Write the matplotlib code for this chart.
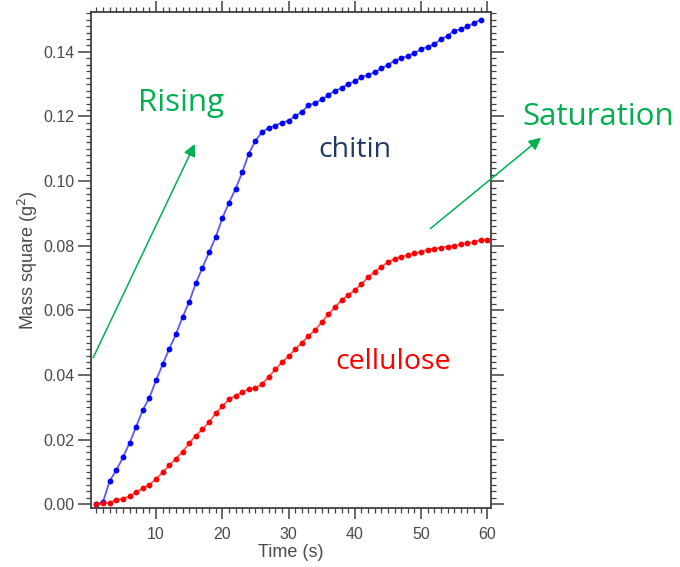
import matplotlib.pyplot as plt
from matplotlib.ticker import MultipleLocator

# time axis (s)
t_chitin = list(range(1, 60))
t_cellulose = list(range(1, 61))

chitin = [0.0000, 0.0007, 0.0072, 0.0105, 0.0145, 0.0189, 0.0240, 0.0291, 0.0330, 0.0383,
          0.0433, 0.0481, 0.0526, 0.0579, 0.0626, 0.0684, 0.0732, 0.0779, 0.0827, 0.0885,
          0.0933, 0.0976, 0.1027, 0.1085, 0.1125, 0.1152, 0.1165, 0.1172, 0.1181, 0.1187,
          0.1202, 0.1214, 0.1235, 0.1241, 0.1253, 0.1266, 0.1280, 0.1288, 0.1301, 0.1309,
          0.1322, 0.1329, 0.1337, 0.1349, 0.1360, 0.1373, 0.1380, 0.1388, 0.1396, 0.1409,
          0.1416, 0.1424, 0.1439, 0.1450, 0.1466, 0.1470, 0.1479, 0.1489, 0.1500]

cellulose = [0.0000, 0.0002, 0.0005, 0.0013, 0.0017, 0.0025, 0.0037, 0.0049, 0.0060, 0.0077,
             0.0099, 0.0120, 0.0141, 0.0162, 0.0189, 0.0212, 0.0232, 0.0254, 0.0281, 0.0303,
             0.0325, 0.0335, 0.0347, 0.0356, 0.0360, 0.0372, 0.0394, 0.0417, 0.0439, 0.0458,
             0.0479, 0.0500, 0.0520, 0.0539, 0.0563, 0.0588, 0.0609, 0.0632, 0.0647, 0.0663,
             0.0681, 0.0702, 0.0720, 0.0735, 0.0749, 0.0759, 0.0766, 0.0771, 0.0776, 0.0781,
             0.0788, 0.0791, 0.0794, 0.0797, 0.0799, 0.0804, 0.0807, 0.0812, 0.0818, 0.0818]

GREEN = '#00B050'
AXIS_GRAY = '#404040'
LABEL_GRAY = '#4a4a4a'
TEXT_FONT = ['Open Sans', 'DejaVu Sans']

plt.rcParams['font.family'] = ['Liberation Sans', 'DejaVu Sans']

fig = plt.figure(figsize=(6.8, 5.67), dpi=100)
ax = fig.add_axes([0.134, 0.1046, 0.5876, 0.8734])

ax.plot(t_chitin, chitin, '-', color='#5a5aff', lw=1.3, zorder=2)
ax.plot(t_chitin, chitin, 'o', color='#0000ff', ms=4.2, mec='none', zorder=3)
ax.plot(t_cellulose, cellulose, '-', color='#ff5a5a', lw=1.3, zorder=2)
ax.plot(t_cellulose, cellulose, 'o', color='#ff0000', ms=4.2, mec='none', zorder=3)

ax.set_xlim(0.2, 60.5)
ax.set_ylim(-0.0011, 0.1522)

ax.xaxis.set_major_locator(MultipleLocator(10))
ax.xaxis.set_minor_locator(MultipleLocator(1))
ax.yaxis.set_major_locator(MultipleLocator(0.02))
ax.yaxis.set_minor_locator(MultipleLocator(0.002))
ax.yaxis.set_major_formatter(plt.FormatStrFormatter('%.2f'))

ax.tick_params(which='both', direction='out', top=True, right=True,
               color=AXIS_GRAY, labelcolor=LABEL_GRAY, labelsize=11.5)
ax.tick_params(axis='x', which='major', length=8, width=1.1, pad=6)
ax.tick_params(axis='y', which='major', length=9.5, width=1.1, pad=2.5)
ax.tick_params(which='minor', length=3.5, width=0.9)
for s in ax.spines.values():
    s.set_color(AXIS_GRAY)
    s.set_linewidth(1.3)

ax.set_xlabel('Time (s)', fontsize=13, color=LABEL_GRAY, labelpad=1.5)
ax.set_ylabel('Mass square (g$^2$)', fontsize=13, color=LABEL_GRAY, labelpad=2.5)

# annotations
ax.text(13.7, 0.1242, 'Rising', color=GREEN, fontsize=22.5, family=TEXT_FONT,
        ha='center', va='center')
ax.text(76.7, 0.1199, 'Saturation', color=GREEN, fontsize=22.5, family=TEXT_FONT,
        ha='center', va='center', clip_on=False)
ax.text(40.0, 0.1096, 'chitin', color='#203864', fontsize=20.5, family=TEXT_FONT,
        ha='center', va='center')
ax.text(45.8, 0.0440, 'cellulose', color='#ff0000', fontsize=20.5, family=TEXT_FONT,
        ha='center', va='center')

arrow_style = dict(arrowstyle='-|>', color=GREEN, lw=1.1, mutation_scale=18,
                   shrinkA=0, shrinkB=0)
ax.annotate('', xy=(15.85, 0.1115), xytext=(0.5, 0.0453),
            arrowprops=arrow_style, annotation_clip=False)
ax.annotate('', xy=(68.1, 0.1134), xytext=(51.4, 0.0853),
            arrowprops=arrow_style, annotation_clip=False)

fig.savefig('out.png', dpi=100)
